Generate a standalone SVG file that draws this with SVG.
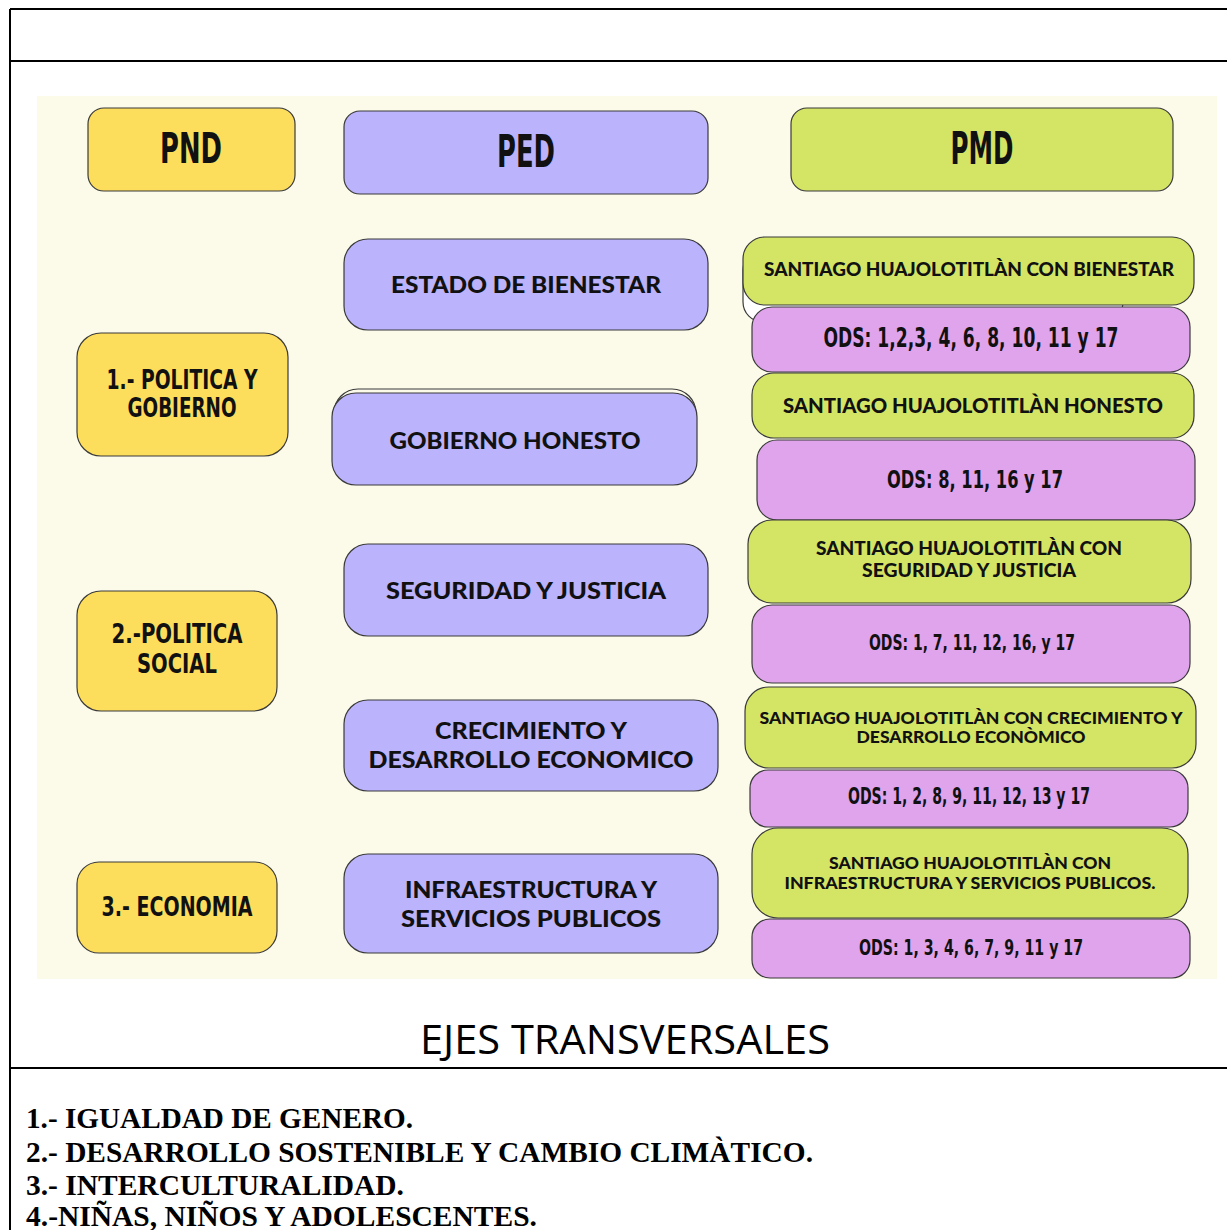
<svg xmlns="http://www.w3.org/2000/svg" width="1227" height="1230" viewBox="0 0 1227 1230">
<style>
.frame{stroke:#000;stroke-width:2;fill:none}
.box{stroke:#3a3a3a;stroke-width:1.2}
.y{fill:#fddd5c}.p{fill:#bbb3fc}.g{fill:#d4e566}.k{fill:#e0a4ec}
.cond{font-family:"DejaVu Sans Condensed","DejaVu Sans",sans-serif;font-stretch:condensed;font-weight:bold;fill:#111;text-anchor:middle}
.geo{font-family:"Lato","Liberation Sans",sans-serif;font-weight:900;fill:#111;text-anchor:middle}
.ejes{font-family:"Open Sans","Liberation Sans",sans-serif;font-size:40px;fill:#000}
.list{font-family:"Liberation Serif",serif;font-weight:bold;font-size:29px;fill:#000}
</style>
<rect x="0" y="0" width="1227" height="1230" fill="#fff"/>
<g id="frame">
<line class="frame" x1="10" y1="9" x2="1227" y2="9"/>
<line class="frame" x1="10" y1="9" x2="10" y2="1230"/>
<line class="frame" x1="10" y1="61" x2="1227" y2="61"/>
<line class="frame" x1="10" y1="1068" x2="1227" y2="1068"/>
</g>
<rect id="panel" x="37" y="96" width="1180" height="883" fill="#fcfbea"/>
<g id="connectors"></g>

<g id="pnd"><rect class="box y" x="88" y="108" width="207" height="83" rx="16"/><text class="cond" x="191" y="163" font-size="42" textLength="62" lengthAdjust="spacingAndGlyphs">PND</text></g>
<g id="ped"><rect class="box p" x="344" y="111" width="364" height="83" rx="16"/><text class="cond" x="526" y="167" font-size="44" textLength="58" lengthAdjust="spacingAndGlyphs">PED</text></g>
<g id="pmd"><rect class="box g" x="791" y="108" width="382" height="83" rx="16"/><text class="cond" x="982" y="164" font-size="44" textLength="63" lengthAdjust="spacingAndGlyphs">PMD</text></g>

<g id="pnd1"><rect class="box y" x="77" y="333" width="211" height="123" rx="24"/>
<text class="cond" x="182" y="389" font-size="26" textLength="151" lengthAdjust="spacingAndGlyphs">1.- POLITICA Y</text>
<text class="cond" x="182" y="417" font-size="26" textLength="109" lengthAdjust="spacingAndGlyphs">GOBIERNO</text></g>
<g id="pnd2"><rect class="box y" x="77" y="591" width="200" height="120" rx="24"/>
<text class="cond" x="177" y="643" font-size="27" textLength="131" lengthAdjust="spacingAndGlyphs">2.-POLITICA</text>
<text class="cond" x="177" y="673" font-size="27" textLength="80" lengthAdjust="spacingAndGlyphs">SOCIAL</text></g>
<g id="pnd3"><rect class="box y" x="77" y="862" width="200" height="91" rx="22"/>
<text class="cond" x="177" y="916" font-size="27" textLength="151" lengthAdjust="spacingAndGlyphs">3.- ECONOMIA</text></g>

<g id="ped1"><rect class="box p" x="344" y="239" width="364" height="91" rx="24"/>
<text class="geo" x="526" y="293" font-size="23" textLength="270" lengthAdjust="spacingAndGlyphs">ESTADO DE BIENESTAR</text></g>
<g id="ped2"><rect class="box" fill="none" x="334" y="389" width="362" height="91" rx="24"/><rect class="box p" x="332" y="393" width="365" height="92" rx="24"/>
<text class="geo" x="515" y="449" font-size="23" textLength="251" lengthAdjust="spacingAndGlyphs">GOBIERNO HONESTO</text></g>
<g id="ped3"><rect class="box p" x="344" y="544" width="364" height="92" rx="24"/>
<text class="geo" x="526" y="599" font-size="23" textLength="280" lengthAdjust="spacingAndGlyphs">SEGURIDAD Y JUSTICIA</text></g>
<g id="ped4"><rect class="box p" x="344" y="700" width="374" height="91" rx="24"/>
<text class="geo" x="531" y="739" font-size="23" textLength="192" lengthAdjust="spacingAndGlyphs">CRECIMIENTO Y</text>
<text class="geo" x="531" y="768" font-size="23" textLength="325" lengthAdjust="spacingAndGlyphs">DESARROLLO ECONOMICO</text></g>
<g id="ped5"><rect class="box p" x="344" y="854" width="374" height="99" rx="24"/>
<text class="geo" x="531" y="898" font-size="23" textLength="252" lengthAdjust="spacingAndGlyphs">INFRAESTRUCTURA Y</text>
<text class="geo" x="531" y="927" font-size="23" textLength="260" lengthAdjust="spacingAndGlyphs">SERVICIOS PUBLICOS</text></g>

<g id="pmd1"><rect class="box" fill="#fff" x="743" y="250" width="380" height="72" rx="20"/><rect class="box g" x="743" y="237" width="451" height="68" rx="22"/>
<text class="geo" x="969" y="276" font-size="19" textLength="410" lengthAdjust="spacingAndGlyphs">SANTIAGO HUAJOLOTITLÀN CON BIENESTAR</text></g>
<g id="ods1"><rect class="box k" x="752" y="307" width="438" height="65" rx="20"/>
<text class="cond" x="971" y="347" font-size="26" textLength="295" lengthAdjust="spacingAndGlyphs">ODS: 1,2,3, 4, 6, 8, 10, 11 y 17</text></g>
<g id="pmd2"><rect class="box g" x="752" y="373" width="442" height="65" rx="22"/>
<text class="geo" x="973" y="413" font-size="20" textLength="380" lengthAdjust="spacingAndGlyphs">SANTIAGO HUAJOLOTITLÀN HONESTO</text></g>
<g id="ods2"><rect class="box k" x="757" y="440" width="438" height="80" rx="20"/>
<text class="cond" x="975" y="488" font-size="25" textLength="176" lengthAdjust="spacingAndGlyphs">ODS: 8, 11, 16 y 17</text></g>
<g id="pmd3"><rect class="box g" x="748" y="520" width="443" height="83" rx="24"/>
<text class="geo" x="969" y="555" font-size="18" textLength="306" lengthAdjust="spacingAndGlyphs">SANTIAGO HUAJOLOTITLÀN CON</text>
<text class="geo" x="969" y="577" font-size="18" textLength="214" lengthAdjust="spacingAndGlyphs">SEGURIDAD Y JUSTICIA</text></g>
<g id="ods3"><rect class="box k" x="752" y="605" width="438" height="78" rx="20"/>
<text class="cond" x="972" y="650" font-size="21" textLength="206" lengthAdjust="spacingAndGlyphs">ODS: 1, 7, 11, 12, 16, y 17</text></g>
<g id="pmd4"><rect class="box g" x="745" y="687" width="451" height="81" rx="24"/>
<text class="geo" x="971" y="724" font-size="16" textLength="423" lengthAdjust="spacingAndGlyphs">SANTIAGO HUAJOLOTITLÀN CON CRECIMIENTO Y</text>
<text class="geo" x="971" y="743" font-size="16" textLength="229" lengthAdjust="spacingAndGlyphs">DESARROLLO ECONÒMICO</text></g>
<g id="ods4"><rect class="box k" x="750" y="770" width="438" height="57" rx="18"/>
<text class="cond" x="969" y="804" font-size="23" textLength="242" lengthAdjust="spacingAndGlyphs">ODS: 1, 2, 8, 9, 11, 12, 13 y 17</text></g>
<g id="pmd5"><rect class="box g" x="752" y="828" width="436" height="90" rx="26"/>
<text class="geo" x="970" y="869" font-size="16.5" textLength="282" lengthAdjust="spacingAndGlyphs">SANTIAGO HUAJOLOTITLÀN CON</text>
<text class="geo" x="970" y="889" font-size="16.5" textLength="371" lengthAdjust="spacingAndGlyphs">INFRAESTRUCTURA Y SERVICIOS PUBLICOS.</text></g>
<g id="ods5"><rect class="box k" x="752" y="919" width="438" height="59" rx="18"/>
<text class="cond" x="971" y="955" font-size="22" textLength="224" lengthAdjust="spacingAndGlyphs">ODS: 1, 3, 4, 6, 7, 9, 11 y 17</text></g>

<g id="ejes"><text class="ejes" x="420" y="1054" textLength="410" lengthAdjust="spacingAndGlyphs">EJES TRANSVERSALES</text></g>
<g id="lista">
<text class="list" x="26" y="1128" textLength="387" lengthAdjust="spacingAndGlyphs">1.- IGUALDAD DE GENERO.</text>
<text class="list" x="26" y="1162" textLength="787" lengthAdjust="spacingAndGlyphs">2.- DESARROLLO SOSTENIBLE Y CAMBIO CLIMÀTICO.</text>
<text class="list" x="26" y="1195" textLength="378" lengthAdjust="spacingAndGlyphs">3.- INTERCULTURALIDAD.</text>
<text class="list" x="26" y="1226" textLength="511" lengthAdjust="spacingAndGlyphs">4.-NIÑAS, NIÑOS Y ADOLESCENTES.</text>
</g>
</svg>
